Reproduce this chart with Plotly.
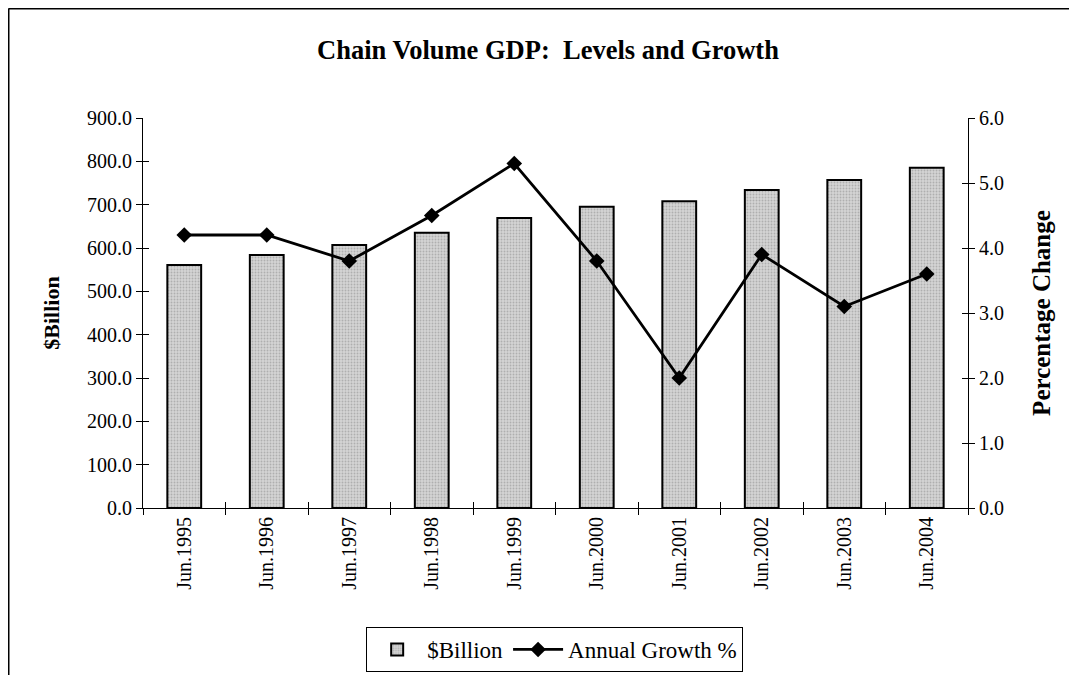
import plotly.graph_objects as go

categories = ["Jun.1995", "Jun.1996", "Jun.1997", "Jun.1998", "Jun.1999",
              "Jun.2000", "Jun.2001", "Jun.2002", "Jun.2003", "Jun.2004"]
billion = [561, 584, 607, 635, 669, 695, 708, 734, 757, 785]
growth = [4.2, 4.2, 3.8, 4.5, 5.3, 3.8, 2.0, 3.9, 3.1, 3.6]

left_ticks = [0, 100, 200, 300, 400, 500, 600, 700, 800, 900]
right_ticks = [0, 1, 2, 3, 4, 5, 6]

FONT = "Liberation Serif, Times New Roman, serif"

W, H = 1069, 667
L, R, T, B = 135, 109, 110, 167
PW, PH = W - L - R, H - T - B
XR = [-0.5, len(categories) - 0.5]

fig = go.Figure()
fig.add_trace(go.Bar(
    x=categories, y=billion, name="$Billion",
    marker=dict(color="#c8c8c8",
                line=dict(color="black", width=2),
                pattern=dict(shape=".", fgcolor="#8a8a8a", bgcolor="#d4d4d4", size=3, solidity=0.3)),
    xaxis="x", yaxis="y",
))
fig.add_trace(go.Scatter(
    x=categories, y=growth, name="Annual Growth %",
    mode="lines+markers",
    line=dict(color="black", width=2.8),
    marker=dict(symbol="diamond", size=12, color="black"),
    xaxis="x", yaxis="y2",
))
# transparent helper traces so the inner half of the crossing tick marks is drawn
fig.add_trace(go.Scatter(x=categories, y=billion, xaxis="x2", yaxis="y3", mode="markers",
                         marker=dict(opacity=0), showlegend=False, hoverinfo="skip"))
fig.add_trace(go.Scatter(x=categories, y=growth, xaxis="x2", yaxis="y4", mode="markers",
                         marker=dict(opacity=0), showlegend=False, hoverinfo="skip"))

tick_common = dict(ticklen=6, tickcolor="black", tickwidth=1, showgrid=False,
                   zeroline=False, automargin=False)

fig.update_layout(
    width=W, height=H,
    margin=dict(l=L, r=R, t=T, b=B, autoexpand=False),
    plot_bgcolor="white", paper_bgcolor="white",
    font=dict(family=FONT, size=20, color="black"),
    title=dict(text="<b>Chain Volume GDP:  Levels and Growth</b>",
               x=540 / W, xanchor="center", y=1 - 42 / H, yanchor="middle",
               font=dict(family=FONT, size=26.5, color="black")),
    bargap=0.59,
    showlegend=True,
    legend=dict(orientation="h", x=0.499, xanchor="center", y=(500 - 619) / PH, yanchor="top",
                bordercolor="black", borderwidth=1, bgcolor="white",
                font=dict(family=FONT, size=23), itemwidth=50,
                traceorder="normal", tracegroupgap=0),
    xaxis=dict(type="category", range=XR, tickangle=-90, tickson="boundaries",
               ticks="outside", showline=True, linecolor="black", linewidth=1,
               tickfont=dict(family=FONT, size=20), **tick_common),
    xaxis2=dict(type="category", range=XR, overlaying="x", anchor="y3", side="bottom",
                tickson="boundaries", ticks="inside", showticklabels=False,
                showline=False, categoryorder="array", categoryarray=categories,
                **tick_common),
    yaxis=dict(range=[0, 900], tickvals=left_ticks,
               ticktext=[f"{v:.1f}" for v in left_ticks],
               ticks="outside", showline=True, linecolor="black", linewidth=1,
               tickfont=dict(family=FONT, size=20),
               title=dict(text="<b>$Billion</b>", font=dict(family=FONT, size=22), standoff=21),
               **tick_common),
    yaxis2=dict(range=[0, 6], tickvals=right_ticks,
                ticktext=[f"{v:.1f}" for v in right_ticks],
                overlaying="y", side="right", anchor="x",
                ticks="outside", showline=True, linecolor="black", linewidth=1,
                tickfont=dict(family=FONT, size=20),
                title=dict(text="<b>Percentage Change</b>", font=dict(family=FONT, size=25), standoff=29),
                **tick_common),
    yaxis3=dict(range=[0, 900], tickvals=left_ticks, overlaying="y", side="left", anchor="x2",
                ticks="inside", showticklabels=False, showline=False, **tick_common),
    yaxis4=dict(range=[0, 6], tickvals=right_ticks, overlaying="y", side="right", anchor="x2",
                ticks="inside", showticklabels=False, showline=False, **tick_common),
)

# outer chart frame (top and left edges visible)
fx = (0.5 - L) / PW
fy = 1 + (T - 0.5) / PH
fig.add_shape(type="line", xref="paper", yref="paper",
              x0=fx, x1=1 + (R + 20) / PW, y0=fy, y1=fy,
              line=dict(color="black", width=2))
fig.add_shape(type="line", xref="paper", yref="paper",
              x0=fx, x1=fx, y0=-(B + 20) / PH, y1=fy,
              line=dict(color="black", width=2))

fig.write_html("out.html")
